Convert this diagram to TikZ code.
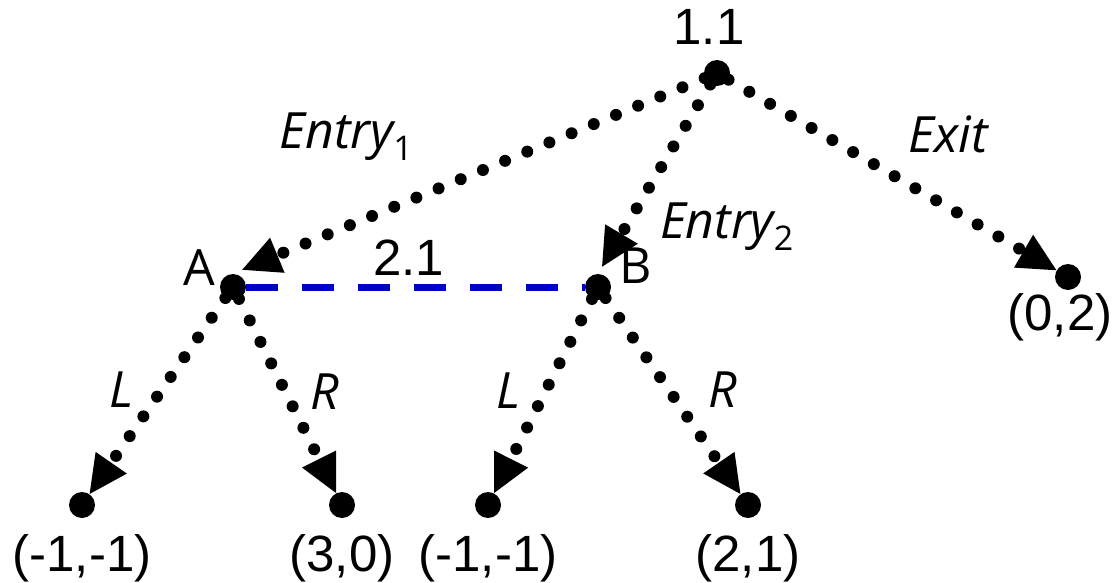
\documentclass[tikz,border=0pt]{standalone}
\usepackage{fontspec}
\setmainfont{Liberation Sans}
\newfontfamily\lblfont{Open Sans}
\usetikzlibrary{arrows.meta,positioning}
\definecolor{infoblue}{RGB}{0,0,200}
\newcommand{\subidx}[1]{\raisebox{-6pt}{\fontsize{17}{17}\selectfont\upshape #1}}

\begin{document}
\begin{tikzpicture}[
    x=0.5pt, y=-0.5pt,
    dot/.style={circle, fill=black, inner sep=0pt, minimum size=13pt},
    move/.style={line width=6pt, line cap=round, dash pattern=on 0pt off 12pt, -{Triangle[length=19pt, width=19pt, line width=0pt]}},
    info/.style={infoblue, line width=3.5pt, dash pattern=on 16pt off 12pt},
    num/.style={font=\fontsize{25.5}{30}\selectfont, inner sep=0pt},
    act/.style={font=\lblfont\itshape\fontsize{25}{30}\selectfont, inner sep=1pt},
]
    \useasboundingbox (0,0) rectangle (1113,583);

    % decision nodes
    \node[dot] (root) at (717,73) {};
    \node[dot, on grid, below left=107pt and 242pt of root] (A) {};
    \node[dot, on grid, below left=107pt and 59.5pt of root] (B) {};
    \node[dot, on grid, below right=102pt and 175.5pt of root] (exit) {};

    % terminal nodes
    \node[dot, on grid, below left=109pt and 75.5pt of A] (AL) {};
    \node[dot, on grid, below right=109pt and 54.5pt of A] (AR) {};
    \node[dot, on grid, below left=109pt and 55pt of B] (BL) {};
    \node[dot, on grid, below right=109pt and 75pt of B] (BR) {};

    % node labels
    \node[num, on grid, above left=14pt and 4pt of root, anchor=base] (rootlbl) {1.1};
    \node[num, on grid, above left=1pt and 17pt of A, anchor=base, font=\lblfont\fontsize{25}{30}\selectfont] (Albl) {A};
    \node[num, on grid, above right=2pt and 19pt of B, anchor=base, font=\lblfont\fontsize{25}{30}\selectfont] (Blbl) {B};

    % payoffs
    \node[num, on grid, below=33pt of AL, anchor=base] (ALpay) {(-1,-1)};
    \node[num, on grid, below=33pt of AR, anchor=base] (ARpay) {(3,0)};
    \node[num, on grid, below=33pt of BL, anchor=base] (BLpay) {(-1,-1)};
    \node[num, on grid, below=33pt of BR, anchor=base] (BRpay) {(2,1)};
    \node[num, on grid, below left=26.5pt and 4pt of exit, anchor=base] (exitpay) {(0,2)};

    % information set
    \draw[info] (A) -- node[num, text=black, pos=0.48, anchor=base, yshift=6pt] {2.1} (B);

    % moves
    \draw[move, shorten >=5pt] (root) -- node[act, pos=0.76, above=29pt] {Entry\subidx{1}} (A.north);
    \draw[move, shorten >=4pt] (root) -- node[act, pos=0.75, right=13pt] {Entry\subidx{2}} (B.north);
    \draw[move] (root) -- node[act, pos=0.67, above=23pt] {Exit} (exit);
    \draw[move] (A) -- node[act, pos=0.47, left=10pt] {L} (AL);
    \draw[move] (A) -- node[act, pos=0.48, right=8.5pt] {R} (AR);
    \draw[move] (B) -- node[act, pos=0.47, left=8.5pt] {L} (BL);
    \draw[move] (B) -- node[act, pos=0.47, right=16pt] {R} (BR);
\end{tikzpicture}
\end{document}
